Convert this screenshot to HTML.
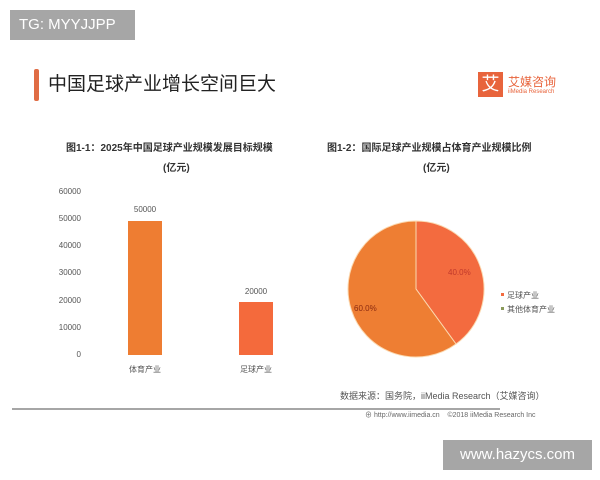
<!DOCTYPE html>
<html><head><meta charset="utf-8"><style>
body{margin:0;width:600px;height:480px;background:#fff;position:relative;overflow:hidden;font-family:"Liberation Sans","Noto Sans CJK SC",sans-serif;}
.a{position:absolute;white-space:nowrap;}
.t{font-size:8px;color:#555;}
.y{left:40px;width:41px;text-align:right;font-size:8px;color:#555;line-height:10px;}
</style></head><body>
<div class="a" style="left:10px;top:10px;width:125px;height:30px;background:#a6a6a6;color:#fff;font-size:15px;line-height:30px;text-indent:9px;">TG: MYYJJPP</div>
<div class="a" style="left:34px;top:69px;width:5px;height:32px;background:#e06c44;border-radius:2px;"></div>
<div class="a" style="left:48px;top:72px;font-size:19px;color:#222;line-height:26px;">中国足球产业增长空间巨大</div>
<div class="a" style="left:478px;top:72px;width:25px;height:25px;background:#e8643c;color:#fff;font-size:18px;text-align:center;line-height:25px;">艾</div>
<div class="a" style="left:508px;top:73px;font-size:12px;color:#e8643c;">艾媒咨询</div>
<div class="a" style="left:508px;top:89px;font-size:6px;color:#e8643c;">iiMedia Research</div>
<div class="a" style="left:66px;top:139px;font-size:10px;font-weight:bold;color:#333;">图1-1：2025年中国足球产业规模发展目标规模</div>
<div class="a" style="left:163px;top:159px;font-size:10px;font-weight:bold;color:#333;">(亿元)</div>
<div class="a" style="left:327px;top:139px;font-size:10px;font-weight:bold;color:#333;">图1-2：国际足球产业规模占体育产业规模比例</div>
<div class="a" style="left:423px;top:159px;font-size:10px;font-weight:bold;color:#333;">(亿元)</div>
<div class="a y" style="top:187px;">60000</div>
<div class="a y" style="top:214px;">50000</div>
<div class="a y" style="top:241px;">40000</div>
<div class="a y" style="top:268px;">30000</div>
<div class="a y" style="top:296px;">20000</div>
<div class="a y" style="top:323px;">10000</div>
<div class="a y" style="top:350px;">0</div>
<div class="a" style="left:128px;top:221px;width:34px;height:134px;background:#ee7d32;"></div>
<div class="a" style="left:239px;top:302px;width:34px;height:53px;background:#f46a3c;"></div>
<div class="a t" style="left:128px;top:205px;width:34px;text-align:center;">50000</div>
<div class="a t" style="left:239px;top:287px;width:34px;text-align:center;">20000</div>
<div class="a t" style="left:125px;top:364px;width:40px;text-align:center;">体育产业</div>
<div class="a t" style="left:236px;top:364px;width:40px;text-align:center;">足球产业</div>
<svg class="a" style="left:0;top:0" width="600" height="480">
<path d="M416,289 L416,221 A68,68 0 0 1 456,344 Z" fill="#f36b3f" stroke="#fbd9b0" stroke-width="1"/>
<path d="M416,289 L456,344 A68,68 0 1 1 416,221 Z" fill="#ee7e33" stroke="#fbd9b0" stroke-width="1"/>
<rect x="501" y="293" width="3" height="3" fill="#f36b3f"/>
<rect x="501" y="307" width="3" height="3" fill="#8a9a5a"/>
<line x1="12" y1="409" x2="500" y2="409" stroke="#888" stroke-width="1.5"/>
</svg>
<div class="a" style="left:448px;top:268px;font-size:8px;color:#c0392b;">40.0%</div>
<div class="a" style="left:354px;top:304px;font-size:8px;color:#8b2a10;">60.0%</div>
<div class="a t" style="left:507px;top:290px;">足球产业</div>
<div class="a t" style="left:507px;top:304px;">其他体育产业</div>
<div class="a" style="left:340px;top:389px;font-size:9px;color:#555;">数据来源：国务院，iiMedia Research（艾媒咨询）</div>
<div class="a" style="left:365px;top:410px;font-size:7px;color:#666;">⊕ http://www.iimedia.cn &nbsp;&nbsp; ©2018 iiMedia Research Inc</div>
<div class="a" style="left:443px;top:440px;width:149px;height:30px;background:#a6a6a6;color:#fff;font-size:15px;line-height:30px;text-align:center;">www.hazycs.com</div>
</body></html>
